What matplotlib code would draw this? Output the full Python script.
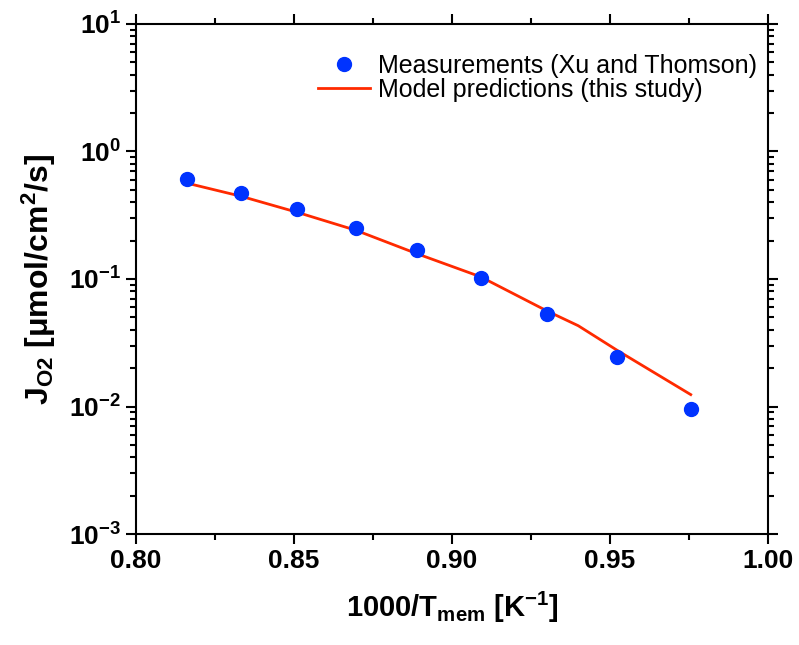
import numpy as np
import matplotlib
matplotlib.use("Agg")
import matplotlib.pyplot as plt
from matplotlib.ticker import LogLocator, MultipleLocator, NullFormatter

plt.rcParams['font.family'] = ['Liberation Sans', 'DejaVu Sans']
plt.rcParams['mathtext.fontset'] = 'custom'
plt.rcParams['mathtext.rm'] = 'Liberation Sans:bold'
plt.rcParams['mathtext.bf'] = 'Liberation Sans:bold'
plt.rcParams['mathtext.default'] = 'bf'

# 1000/T (K^-1) for T = 1225 ... 1025 K
x_meas = [0.8163, 0.8333, 0.8511, 0.8696, 0.8889, 0.9091, 0.9302, 0.9524, 0.9756]
j_meas = [0.613, 0.473, 0.354, 0.253, 0.169, 0.101, 0.0527, 0.0243, 0.00953]

x_model = [0.8163, 0.8333, 0.8511, 0.8696, 0.8889, 0.9091, 0.9302, 0.9400, 0.9524, 0.9756]
j_model = [0.563, 0.445, 0.333, 0.241, 0.158, 0.104, 0.056, 0.043, 0.0275, 0.0124]

fig = plt.figure(figsize=(7.99, 6.45), dpi=100)
ax = fig.add_axes([0.170, 0.172, 0.791, 0.791])

ax.plot(x_meas, j_meas, 'o', color='#0033ff', markersize=10, zorder=3,
        label='Measurements (Xu and Thomson)')
ax.plot(x_model, j_model, '-', color='#ff2a00', lw=2, zorder=2,
        label='Model predictions (this study)')

ax.set_yscale('log')
ax.set_xlim(0.80, 1.00)
ax.set_ylim(1e-3, 1e1)

ax.xaxis.set_major_locator(MultipleLocator(0.05))
ax.xaxis.set_minor_locator(MultipleLocator(0.025))
ax.xaxis.set_major_formatter(plt.FormatStrFormatter('%.2f'))
ax.yaxis.set_major_locator(LogLocator(base=10, numticks=10))
ax.yaxis.set_major_formatter(plt.FuncFormatter(lambda v, p: '10$^{%d}$' % round(np.log10(v))))
ax.yaxis.set_minor_locator(LogLocator(base=10, subs=np.arange(2, 10), numticks=20))
ax.yaxis.set_minor_formatter(NullFormatter())

ax.tick_params(which='both', direction='out', top=True, right=True, width=1.5)
ax.tick_params(which='major', length=7, labelsize=19)
ax.tick_params(which='minor', length=4)
for lab in ax.get_xticklabels() + ax.get_yticklabels():
    lab.set_fontweight('bold')
for s in ax.spines.values():
    s.set_linewidth(1.5)

ax.set_xlabel('1000/T$_{mem}$ [K$^{-1}$]', fontsize=21, fontweight='bold', labelpad=12)
ax.set_ylabel('J$_{O2}$ [μmol/cm$^2$/s]', fontsize=23, fontweight='bold', labelpad=8)

ax.legend(loc='upper right', frameon=False, fontsize=18, handlelength=2.1,
          handletextpad=0.3, borderaxespad=0.3, labelspacing=0.0,
          bbox_to_anchor=(1.01, 0.975))

plt.savefig('out.png', dpi=100)
